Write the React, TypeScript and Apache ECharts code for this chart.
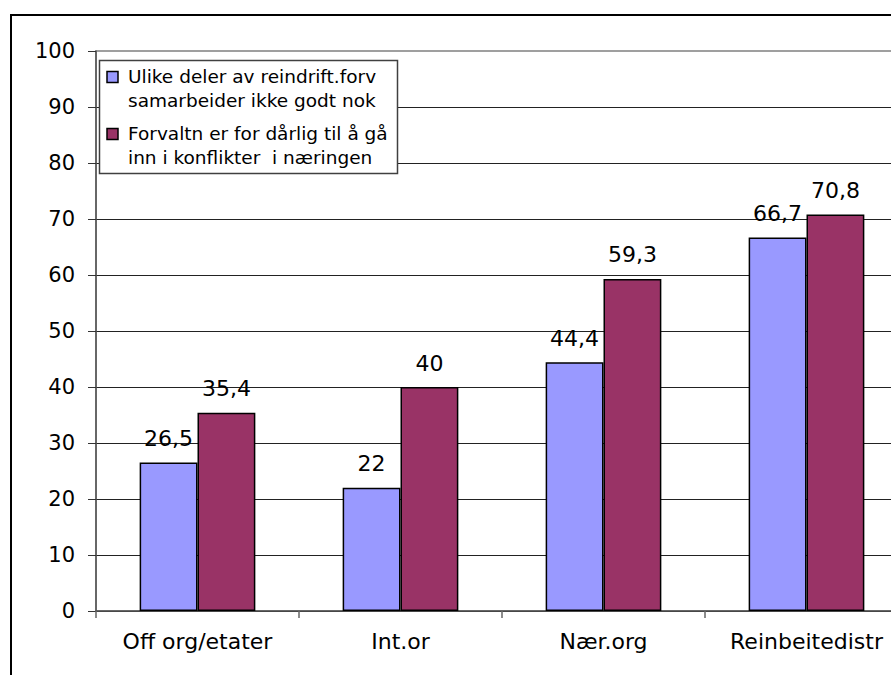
import React, { useEffect, useRef } from "react";
import * as echarts from "echarts";

const categories = ["Off org/etater", "Int.or", "Nær.org", "Reinbeitedistr"];
const seriesNames = [
  "Ulike deler av reindrift.forv\nsamarbeider ikke godt nok",
  "Forvaltn er for dårlig til å gå\ninn i konflikter  i næringen",
];
const seriesA = [26.5, 22, 44.4, 66.7];
const seriesB = [35.4, 40, 59.3, 70.8];
const colors = ["#9999FF", "#993366"];
const FONT = "DejaVu Sans, Arial, sans-serif";

export default function App() {
  const ref = useRef<HTMLDivElement>(null);
  useEffect(() => {
    if (!ref.current) return;
    const chart = echarts.init(ref.current, null, { renderer: "svg" });
    const fmt = (p: any) => String(p.value).replace(".", ",");
    const legendItems: any[] = [];
    const legendTops = [76.5, 133.5];
    seriesNames.forEach((name, i) => {
      const lines = name.split("\n");
      legendItems.push({
        type: "rect",
        shape: { x: 107, y: legendTops[i] - 5, width: 11, height: 11 },
        style: { fill: colors[i], stroke: "#000", lineWidth: 1.5 },
        z: 101,
      });
      lines.forEach((ln, j) => {
        legendItems.push({
          type: "text",
          x: 128,
          y: legendTops[i] + j * 24,
          style: {
            text: ln,
            font: `18.5px ${FONT}`,
            fill: "#000",
            verticalAlign: "middle",
            align: "left",
          },
          z: 101,
        });
      });
    });
    chart.setOption({
      animation: false,
      backgroundColor: "#fff",
      grid: {
        left: 96,
        top: 51,
        right: 32,
        bottom: 64,
        show: true,
        borderColor: "#808080",
        borderWidth: 1.5,
      },
      xAxis: {
        type: "category",
        data: categories,
        axisLine: { lineStyle: { color: "#555", width: 1.5 } },
        axisTick: { show: true, length: 7, lineStyle: { color: "#666", width: 1.5 } },
        axisLabel: { color: "#000", fontSize: 22, fontFamily: FONT, margin: 19 },
      },
      yAxis: {
        type: "value",
        min: 0,
        max: 100,
        interval: 10,
        axisLine: { show: true, lineStyle: { color: "#555", width: 1.5 } },
        axisTick: { show: true, length: 8, lineStyle: { color: "#333", width: 1 } },
        axisLabel: { color: "#000", fontSize: 21, fontFamily: FONT, margin: 21 },
        splitLine: { show: true, showMaxLine: false, lineStyle: { color: "#222", width: 1 } },
      },
      series: [seriesA, seriesB].map((d, i) => ({
        type: "bar",
        name: seriesNames[i],
        data: d,
        barGap: "0%",
        barCategoryGap: "43%",
        itemStyle: { color: colors[i], borderColor: "#000", borderWidth: 1.5 },
        label: {
          show: true,
          position: "top",
          distance: 13,
          formatter: fmt,
          color: "#000",
          fontSize: 22,
          fontFamily: FONT,
        },
      })),
      graphic: [
        {
          type: "rect",
          shape: { x: 11, y: 15, width: 1000, height: 1000 },
          style: { fill: "none", stroke: "#000", lineWidth: 2 },
          z: 100,
          silent: true,
        },
        {
          type: "rect",
          shape: { x: 99.5, y: 60.5, width: 298, height: 113 },
          style: { fill: "#fff", stroke: "#404040", lineWidth: 1.5 },
          z: 100,
        },
        ...legendItems,
      ],
    });
    return () => chart.dispose();
  }, []);
  return (
    <div
      style={{
        position: "fixed",
        left: 0,
        top: 0,
        width: 891,
        height: 675,
        overflow: "hidden",
        background: "#fff",
      }}
    >
      <div ref={ref} style={{ width: 940, height: 675 }} />
    </div>
  );
}
